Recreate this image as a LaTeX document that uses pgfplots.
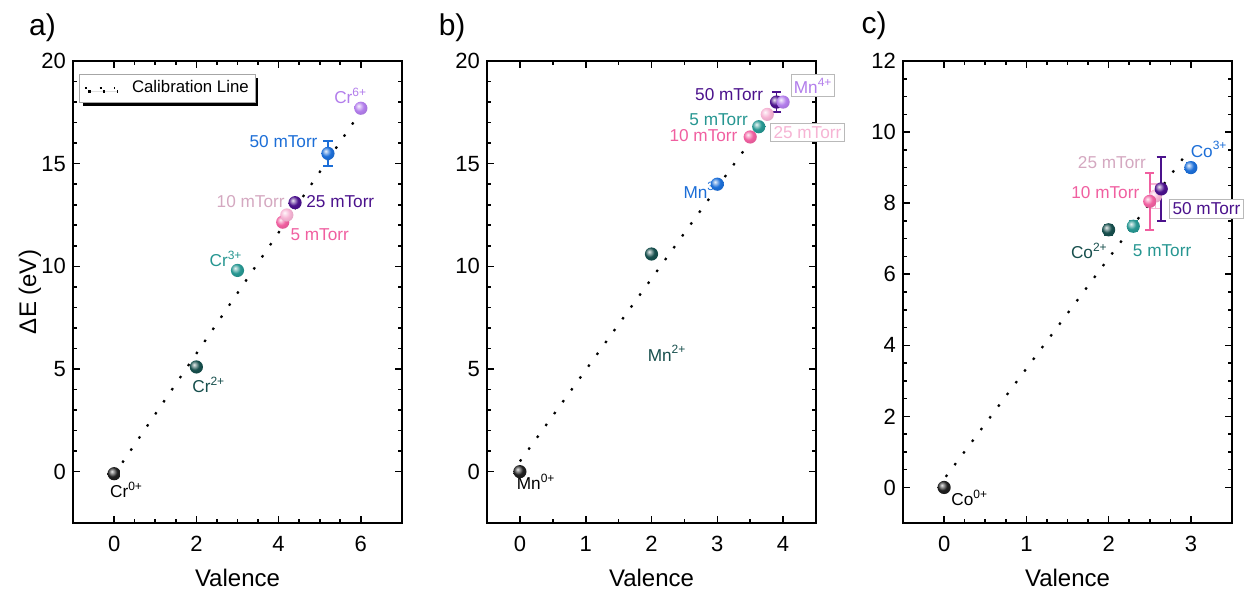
\documentclass[border=0pt]{standalone}
\usepackage{pgfplots}
\pgfplotsset{compat=1.18}
\usepackage{fontspec}
\setmainfont{Liberation Sans}
\usetikzlibrary{shadows}

\definecolor{cblack}{RGB}{30,30,30}
\definecolor{cdteal}{RGB}{22,78,76}
\definecolor{cteal}{RGB}{38,150,145}
\definecolor{chpink}{RGB}{240,95,160}
\definecolor{clpink}{RGB}{246,180,212}
\definecolor{cgpink}{RGB}{212,168,192}
\definecolor{cpurp}{RGB}{75,18,140}
\definecolor{cblue}{RGB}{28,110,215}
\definecolor{clav}{RGB}{178,125,235}
\colorlet{mkcol}{black}

\pgfdeclareradialshading[mkcol]{sball}{\pgfpoint{-9bp}{9bp}}{%
  color(0bp)=(mkcol!10!white); color(7bp)=(mkcol!45!white); color(18bp)=(mkcol);
  color(42bp)=(mkcol!85!black); color(75bp)=(mkcol!65!black)}
\pgfdeclareplotmark{sball}{%
  \pgfpathcircle{\pgfpointorigin}{\pgfplotmarksize}%
  \pgfshadepath{sball}{0}%
  \pgfusepath{}}

\newcommand{\sps}[1]{\raisebox{0.8ex}{\fontsize{6}{6}\selectfont #1}}

\tikzset{
  lab/.style={font=\fontsize{8.6}{10}\selectfont, inner sep=1pt},
  boxlab/.style={lab, draw=gray!55, fill=white, inner sep=1.5pt},
}
\pgfplotsset{
  panel/.style={
    scale only axis, width=164.5pt, height=231pt,
    clip=false,
    axis line style={line width=1pt},
    every tick/.style={line width=0.8pt, black},
    major tick length=3.5pt, minor tick length=2pt,
    tick label style={font=\fontsize{11}{13}\selectfont},
    /pgf/number format/assume math mode=true,
    xticklabel style={yshift=-3pt},
    xlabel={Valence},
    xlabel style={font=\fontsize{12}{14}\selectfont, at={(axis description cs:0.5,0)}, anchor=center, yshift=-27.5pt},
  },
  sph/.style={only marks, mark=sball, mark size=3.3pt, mark options={/utils/exec={\colorlet{mkcol}{#1}}}},
  eb/.style={sph=#1, error bars/.cd, y dir=both, y explicit,
     error bar style={line width=0.9pt, #1},
     error mark options={rotate=90, mark size=2.3pt, line width=0.9pt, #1}},
  calib/.style={black, line width=1.1pt, dash pattern=on 1.2pt off 6.1pt},
}

\begin{document}
\begin{tikzpicture}
\useasboundingbox (-36.5pt,-33.5pt) rectangle (585.5pt,261.5pt);

% ---------------- a) Cr ----------------
\begin{axis}[panel, at={(0pt,0pt)}, anchor=south west,
  xmin=-1, xmax=7, ymin=-2.5, ymax=20,
  xtick={0,2,4,6}, minor x tick num=3,
  ytick={0,5,10,15,20}, minor y tick num=4,
  legend style={at={(axis description cs:0,1)}, anchor=north west, xshift=3pt, yshift=-6.5pt,
     draw=gray!70, fill=white, font=\fontsize{8.4}{10}\selectfont, inner sep=1.2pt,
     drop shadow={shadow xshift=1.6pt, shadow yshift=-1.6pt, opacity=1, fill=black},
     legend cell align=left},
  legend image code/.code={\draw[#1] (0pt,0pt) -- (15pt,0pt); \path (-1pt,0pt) (21pt,0pt);},
]
\addplot[calib] coordinates {(0.2,0.44) (5.85,17.1)};
\addlegendentry{Calibration Line}
\node[lab, text=clav] at (axis cs:5.74,18.3) {Cr\sps{6+}};
\node[lab, text=cblue] at (axis cs:4.12,16.08) {50 mTorr};
\node[lab, text=cgpink] at (axis cs:3.32,13.13) {10 mTorr};
\node[lab, text=cpurp] at (axis cs:5.5,13.13) {25 mTorr};
\node[lab, text=chpink] at (axis cs:5.0,11.54) {5 mTorr};
\node[lab, text=cteal] at (axis cs:2.71,10.37) {Cr\sps{3+}};
\node[lab, text=cdteal] at (axis cs:2.29,4.21) {Cr\sps{2+}};
\node[lab, text=black] at (axis cs:0.29,-0.89) {Cr\sps{0+}};
\addplot[sph=cblack] coordinates {(0,-0.1)};
\addplot[sph=cdteal] coordinates {(2,5.1)};
\addplot[sph=cteal] coordinates {(3,9.8)};
\addplot[sph=chpink] coordinates {(4.1,12.15)};
\addplot[sph=clpink] coordinates {(4.2,12.5)};
\addplot[sph=cpurp] coordinates {(4.4,13.1)};
\addplot[eb=cblue] coordinates {(5.2,15.5) +- (0,0.6)};
\addplot[sph=clav] coordinates {(6,17.7)};
\node[font=\fontsize{15}{17}\selectfont] at (axis cs:-1.74,21.6) {a)};
\node[rotate=90, font=\fontsize{12}{14}\selectfont] at (axis cs:-2.05,8.75) {ΔE (eV)};
\end{axis}

% ---------------- b) Mn ----------------
\begin{axis}[panel, at={(207pt,0pt)}, anchor=south west,
  xmin=-0.5, xmax=4.5, ymin=-2.5, ymax=20,
  xtick={0,1,2,3,4}, minor x tick num=1,
  ytick={0,5,10,15,20}, minor y tick num=4,
]
\addplot[calib] coordinates {(0,0.5) (3.9,17.85)};
\node[lab, text=black] at (axis cs:0.24,-0.49) {Mn\sps{0+}};
\node[lab, text=cdteal] at (axis cs:2.23,5.76) {Mn\sps{2+}};
\node[lab, text=cblue, anchor=west] at (axis cs:2.45,13.7) {Mn\sps{3+}};
\node[lab, text=cpurp] at (axis cs:3.18,18.35) {50 mTorr};
\node[lab, text=cteal] at (axis cs:3.02,17.13) {5 mTorr};
\node[lab, text=chpink] at (axis cs:2.79,16.37) {10 mTorr};
\node[boxlab, text=clpink] at (axis cs:4.37,16.53) {25 mTorr};
\node[boxlab, text=clav] at (axis cs:4.45,18.8) {Mn\sps{4+}};
\addplot[sph=cblack] coordinates {(0,0)};
\addplot[sph=cdteal] coordinates {(2,10.6)};
\addplot[sph=cblue] coordinates {(3,14.0)};
\addplot[sph=chpink] coordinates {(3.5,16.3)};
\addplot[sph=cteal] coordinates {(3.63,16.8)};
\addplot[sph=clpink] coordinates {(3.76,17.4)};
\addplot[eb=cpurp] coordinates {(3.9,18.0) +- (0,0.5)};
\addplot[sph=clav] coordinates {(4.0,18.0)};
\node[font=\fontsize{15}{17}\selectfont] at (axis cs:-1.03,21.6) {b)};
\end{axis}

% ---------------- c) Co ----------------
\begin{axis}[panel, at={(415pt,0pt)}, anchor=south west,
  xmin=-0.5, xmax=3.5, ymin=-1, ymax=12,
  xtick={0,1,2,3}, minor x tick num=3,
  ytick={0,2,4,6,8,10,12}, minor y tick num=3,
]
\addplot[calib] coordinates {(0.02,0.3) (2.95,9.4)};
\node[lab, text=cblue, anchor=west] at (axis cs:2.97,9.51) {Co\sps{3+}};
\node[lab, text=cgpink] at (axis cs:2.04,9.15) {25 mTorr};
\node[lab, text=chpink] at (axis cs:1.96,8.31) {10 mTorr};
\node[boxlab, text=cpurp] at (axis cs:3.19,7.84) {50 mTorr};
\node[lab, text=cdteal] at (axis cs:1.76,6.65) {Co\sps{2+}};
\node[lab, text=cteal] at (axis cs:2.65,6.65) {5 mTorr};
\node[lab, text=black, anchor=west] at (axis cs:0.06,-0.3) {Co\sps{0+}};
\addplot[sph=cblack] coordinates {(0,0)};
\addplot[eb=cdteal] coordinates {(2.0,7.25) +- (0,0.15)};
\addplot[eb=cteal] coordinates {(2.3,7.35) +- (0,0.15)};
\addplot[eb=clpink] coordinates {(2.57,8.2) +- (0,0.35)};
\addplot[eb=chpink] coordinates {(2.5,8.05) +- (0,0.8)};
\addplot[eb=cpurp] coordinates {(2.64,8.4) +- (0,0.9)};
\addplot[eb=cblue] coordinates {(3.0,9.0) +- (0,0.12)};
\node[font=\fontsize{15}{17}\selectfont] at (axis cs:-0.85,12.98) {c)};
\end{axis}
\end{tikzpicture}
\end{document}
